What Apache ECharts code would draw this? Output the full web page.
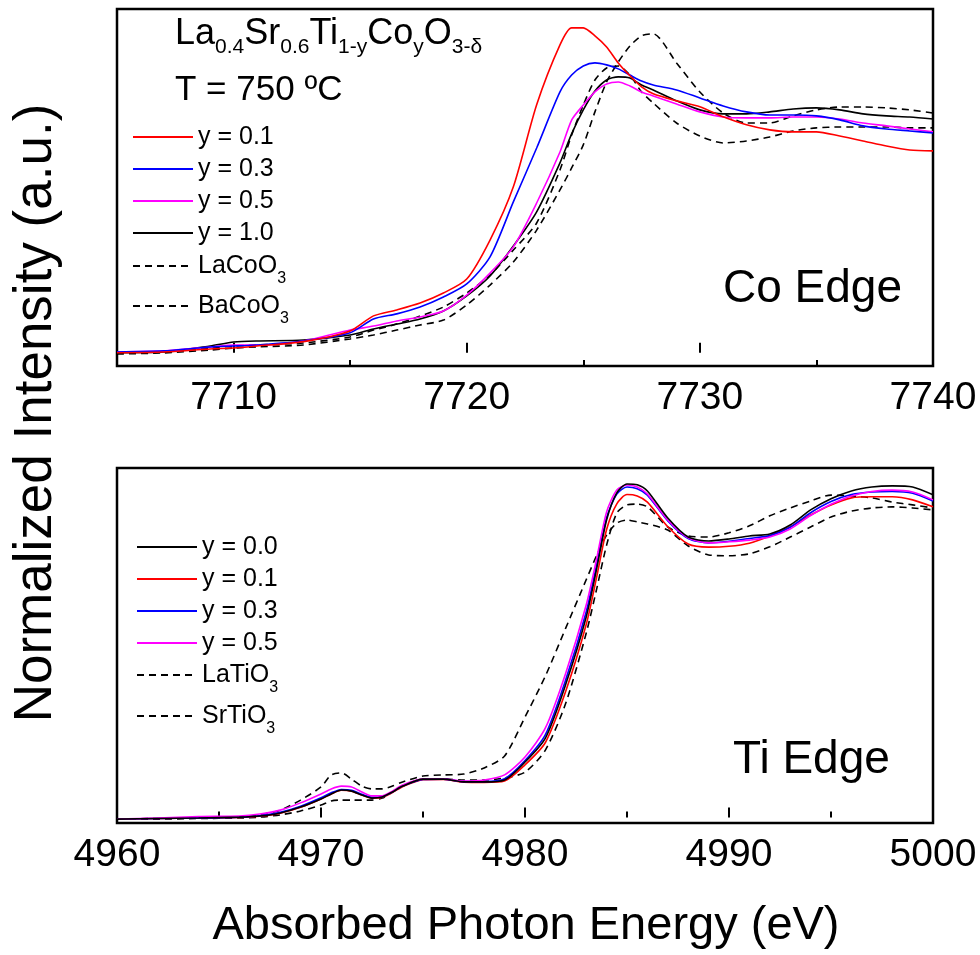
<!DOCTYPE html>
<html>
<head>
<meta charset="utf-8">
<title>Co / Ti edge XANES</title>
<script src="https://cdn.jsdelivr.net/npm/echarts@6/dist/echarts.min.js"></script>
<style>
  html, body { margin: 0; padding: 0; background: #fff; }
  #chart { width: 980px; height: 955px; }
</style>
</head>
<body>
<div id="chart"></div>
<script>
// ---- Co edge (top panel) ----
var coEnergy = [7705, 7707, 7709, 7710, 7711, 7713, 7715, 7716, 7717, 7718, 7719, 7720, 7721, 7722, 7723, 7724, 7724.5, 7725, 7725.5, 7726, 7726.5, 7727, 7727.5, 7728, 7729, 7730, 7731, 7732, 7733, 7734, 7735, 7736, 7737, 7738, 7739, 7740];
var coY01 = [0.000, 0.003, 0.017, 0.021, 0.030, 0.050, 0.098, 0.166, 0.193, 0.224, 0.269, 0.332, 0.508, 0.748, 1.118, 1.388, 1.465, 1.465, 1.429, 1.379, 1.307, 1.249, 1.199, 1.168, 1.136, 1.109, 1.064, 1.028, 1.005, 0.996, 0.996, 0.977, 0.955, 0.932, 0.914, 0.910];
var coY03 = [0.003, 0.008, 0.026, 0.030, 0.035, 0.053, 0.090, 0.152, 0.175, 0.206, 0.251, 0.310, 0.432, 0.680, 0.923, 1.176, 1.252, 1.293, 1.307, 1.298, 1.280, 1.252, 1.225, 1.207, 1.185, 1.149, 1.113, 1.086, 1.072, 1.072, 1.068, 1.050, 1.023, 1.009, 1.000, 0.991];
var coY05 = [0.003, 0.008, 0.026, 0.035, 0.035, 0.053, 0.102, 0.120, 0.143, 0.161, 0.188, 0.260, 0.359, 0.477, 0.675, 0.905, 1.049, 1.117, 1.176, 1.212, 1.221, 1.203, 1.176, 1.158, 1.122, 1.086, 1.063, 1.059, 1.059, 1.063, 1.063, 1.054, 1.036, 1.023, 1.009, 0.996];
var coY10 = [0.000, 0.003, 0.030, 0.048, 0.053, 0.057, 0.080, 0.107, 0.129, 0.152, 0.188, 0.256, 0.346, 0.481, 0.635, 0.856, 0.987, 1.095, 1.180, 1.230, 1.244, 1.239, 1.207, 1.185, 1.136, 1.095, 1.077, 1.077, 1.086, 1.099, 1.104, 1.095, 1.077, 1.068, 1.063, 1.054];
var coLaCoO3 = [0.000, 0.003, 0.021, 0.030, 0.035, 0.044, 0.071, 0.102, 0.129, 0.165, 0.206, 0.269, 0.350, 0.463, 0.585, 0.824, 0.982, 1.117, 1.230, 1.284, 1.293, 1.252, 1.176, 1.126, 1.036, 0.977, 0.946, 0.955, 0.973, 1.000, 1.014, 1.018, 1.018, 1.018, 1.014, 1.014];
var coBaCoO3 = [-0.006, -0.001, 0.012, 0.021, 0.026, 0.035, 0.062, 0.080, 0.102, 0.125, 0.147, 0.215, 0.305, 0.409, 0.553, 0.734, 0.833, 0.937, 1.086, 1.221, 1.311, 1.383, 1.429, 1.438, 1.307, 1.176, 1.081, 1.036, 1.036, 1.068, 1.095, 1.108, 1.108, 1.104, 1.095, 1.081];
var coMajorTicks = [7710, 7720, 7730, 7740];
var coMinorTicks = [7715, 7725, 7735];
var coNames = ['y = 0.1', 'y = 0.3', 'y = 0.5', 'y = 1.0', 'LaCoO3', 'BaCoO3'];

// ---- Ti edge (bottom panel) ----
var tiEnergy = [4960, 4962, 4964, 4966, 4967, 4968, 4969, 4970, 4970.5, 4971, 4971.5, 4972, 4972.5, 4973, 4973.5, 4974, 4975, 4976, 4977, 4978, 4979, 4980, 4981, 4982, 4983, 4983.5, 4984, 4984.5, 4985, 4985.5, 4986, 4987, 4988, 4989, 4990, 4991, 4992, 4993, 4994, 4995, 4996, 4997, 4998, 4999, 5000];
var tiY00 = [-0.006, -0.004, -0.002, 0.001, 0.005, 0.016, 0.037, 0.066, 0.084, 0.098, 0.094, 0.080, 0.069, 0.073, 0.091, 0.112, 0.137, 0.137, 0.127, 0.127, 0.134, 0.198, 0.284, 0.477, 0.717, 0.885, 1.064, 1.161, 1.193, 1.190, 1.168, 1.071, 1.003, 0.989, 0.996, 1.007, 1.014, 1.046, 1.100, 1.140, 1.168, 1.182, 1.186, 1.182, 1.154];
var tiY01 = [-0.006, -0.004, -0.002, 0.000, 0.004, 0.015, 0.036, 0.066, 0.084, 0.097, 0.094, 0.080, 0.069, 0.072, 0.089, 0.110, 0.135, 0.136, 0.126, 0.125, 0.130, 0.188, 0.268, 0.452, 0.690, 0.855, 1.030, 1.122, 1.155, 1.150, 1.128, 1.040, 0.978, 0.967, 0.970, 0.981, 1.007, 1.039, 1.082, 1.118, 1.143, 1.147, 1.147, 1.136, 1.111];
var tiY03 = [-0.006, -0.004, -0.002, 0.001, 0.006, 0.018, 0.040, 0.070, 0.088, 0.100, 0.097, 0.083, 0.072, 0.074, 0.091, 0.112, 0.136, 0.137, 0.128, 0.128, 0.138, 0.203, 0.296, 0.493, 0.735, 0.900, 1.072, 1.157, 1.182, 1.176, 1.153, 1.061, 0.998, 0.982, 0.988, 0.998, 1.008, 1.038, 1.090, 1.130, 1.155, 1.164, 1.166, 1.160, 1.132];
var tiY05 = [-0.006, -0.002, 0.003, 0.005, 0.012, 0.026, 0.052, 0.084, 0.102, 0.112, 0.109, 0.091, 0.077, 0.077, 0.094, 0.116, 0.137, 0.137, 0.130, 0.134, 0.152, 0.216, 0.320, 0.517, 0.760, 0.921, 1.093, 1.171, 1.189, 1.182, 1.157, 1.064, 1.000, 0.982, 0.986, 0.992, 1.003, 1.032, 1.080, 1.120, 1.150, 1.166, 1.171, 1.164, 1.136];
var tiLaTiO3 = [-0.006, -0.004, -0.002, 0.001, 0.009, 0.026, 0.062, 0.109, 0.152, 0.159, 0.137, 0.112, 0.102, 0.102, 0.112, 0.127, 0.148, 0.152, 0.155, 0.177, 0.220, 0.359, 0.506, 0.678, 0.850, 0.935, 1.010, 1.053, 1.064, 1.057, 1.050, 1.028, 0.971, 0.939, 0.936, 0.943, 0.968, 1.003, 1.039, 1.075, 1.096, 1.107, 1.111, 1.107, 1.100];
var tiSrTiO3 = [-0.006, -0.006, -0.004, -0.002, 0.001, 0.009, 0.023, 0.044, 0.059, 0.062, 0.062, 0.062, 0.062, 0.069, 0.091, 0.112, 0.137, 0.137, 0.134, 0.134, 0.141, 0.162, 0.241, 0.409, 0.659, 0.813, 0.974, 1.089, 1.118, 1.121, 1.111, 1.039, 1.007, 1.003, 1.018, 1.043, 1.079, 1.107, 1.132, 1.153, 1.150, 1.143, 1.128, 1.118, 1.107];
var tiNames = ['y = 0.0', 'y = 0.1', 'y = 0.3', 'y = 0.5', 'LaTiO3', 'SrTiO3'];

var FONT = "'Liberation Sans', Arial, sans-serif";

function curve(prefix, label, energy, values, color, dashed, idx) {
  return {
    name: prefix + label,
    type: 'line',
    xAxisIndex: idx === 0 ? 0 : 2,
    yAxisIndex: idx,
    data: energy.map(function (e, i) { return [e, values[i]]; }),
    symbol: 'none',
    smooth: 0.25,
    animation: false,
    itemStyle: { color: color },
    lineStyle: { color: color, width: 1.6, type: dashed ? [7, 5] : 'solid' }
  };
}

// every label gets a sub token, so every legend row has the same height
function legendText(name) {
  var n = name.slice(3);
  var m = n.match(/^(.*O)3$/);
  return m ? '{m|' + m[1] + '}{s|3}' : '{m|' + n + '}{s| }';
}

// one legend per row, so the uneven row spacing of the figure can be kept
function makeLegends(names, prefix, left, rowCenters) {
  return names.map(function (n, i) {
    return {
      orient: 'vertical', left: left, top: rowCenters[i] - 21, padding: 0,
      itemWidth: 60, itemHeight: 14,
      selectedMode: false,
      data: [prefix + n],
      formatter: legendText,
      itemStyle: { opacity: 0 },
      textStyle: {
        color: '#000', fontFamily: FONT,
        rich: {
          m: { fontSize: 25, lineHeight: 30, fontFamily: FONT, color: '#000' },
          s: { fontSize: 16, lineHeight: 16, padding: [26, 0, 0, 0], fontFamily: FONT, color: '#000' }
        }
      }
    };
  });
}

var tickLabel = { fontSize: 39, color: '#000', fontFamily: FONT, margin: 13, formatter: function (v) { return String(v); } };

var chart = echarts.init(document.getElementById('chart'));
chart.setOption({
  backgroundColor: '#fff',
  animation: false,
  grid: [
    { left: 117, top: 9, width: 816, height: 357, show: true, borderColor: '#000', borderWidth: 2.5 },
    { left: 117, top: 468, width: 816, height: 355, show: true, borderColor: '#000', borderWidth: 2.5 }
  ],
  xAxis: [
    {
      type: 'value', gridIndex: 0, min: 7705, max: 7740, interval: 5,
      axisLine: { show: false }, splitLine: { show: false },
      axisTick: { inside: true, length: 10, lineStyle: { color: '#000', width: 2 }, customValues: coMajorTicks },
      axisLabel: Object.assign({ customValues: coMajorTicks }, tickLabel)
    },
    {
      type: 'value', gridIndex: 0, min: 7705, max: 7740, interval: 5,
      position: 'top', offset: -357,
      axisLine: { show: false }, splitLine: { show: false }, axisLabel: { show: false },
      axisTick: { inside: false, length: 6, lineStyle: { color: '#000', width: 2 }, customValues: coMinorTicks }
    },
    {
      type: 'value', gridIndex: 1, min: 4960, max: 5000, interval: 10,
      axisLine: { show: false }, splitLine: { show: false },
      axisTick: { inside: true, length: 10, lineStyle: { color: '#000', width: 2 } },
      minorTick: { show: true, splitNumber: 2, length: 6, lineStyle: { color: '#000', width: 2 } },
      axisLabel: tickLabel
    }
  ],
  yAxis: [
    { type: 'value', gridIndex: 0, min: -0.06, max: 1.55, axisLine: { show: false }, axisTick: { show: false }, axisLabel: { show: false }, splitLine: { show: false } },
    { type: 'value', gridIndex: 1, min: -0.02, max: 1.25, axisLine: { show: false }, axisTick: { show: false }, axisLabel: { show: false }, splitLine: { show: false } }
  ],
  legend: makeLegends(coNames, 'Co ', 132, [137, 169, 201, 233, 266, 306])
    .concat(makeLegends(tiNames, 'Ti ', 136, [547, 579, 611, 643, 675, 716])),
  series: [
    curve('Co ', coNames[5], coEnergy, coBaCoO3, '#000', true, 0),
    curve('Co ', coNames[4], coEnergy, coLaCoO3, '#000', true, 0),
    curve('Co ', coNames[3], coEnergy, coY10, '#000', false, 0),
    curve('Co ', coNames[2], coEnergy, coY05, '#ff00ff', false, 0),
    curve('Co ', coNames[1], coEnergy, coY03, '#0000ff', false, 0),
    curve('Co ', coNames[0], coEnergy, coY01, '#ff0000', false, 0),
    curve('Ti ', tiNames[5], tiEnergy, tiSrTiO3, '#000', true, 1),
    curve('Ti ', tiNames[4], tiEnergy, tiLaTiO3, '#000', true, 1),
    curve('Ti ', tiNames[1], tiEnergy, tiY01, '#ff0000', false, 1),
    curve('Ti ', tiNames[2], tiEnergy, tiY03, '#0000ff', false, 1),
    curve('Ti ', tiNames[3], tiEnergy, tiY05, '#ff00ff', false, 1),
    curve('Ti ', tiNames[0], tiEnergy, tiY00, '#000', false, 1)
  ],
  graphic: [
    {
      type: 'text', x: 175, y: 16,
      style: {
        text: '{m|La}{s|0.4}{m|Sr}{s|0.6}{m|Ti}{s|1-y}{m|Co}{s|y}{m|O}{s|3-δ}',
        fill: '#000', fontFamily: FONT, verticalAlign: 'top',
        rich: {
          m: { fontSize: 36, lineHeight: 36, verticalAlign: 'top', fontFamily: FONT, fill: '#000' },
          s: { fontSize: 21, lineHeight: 21, padding: [26, 0, 0, 0], fontFamily: FONT, fill: '#000' }
        }
      }
    },
    { type: 'text', x: 175, y: 90, style: { text: 'T = 750 ºC', fontSize: 35, fontFamily: FONT, fill: '#000', verticalAlign: 'middle' } },
    { type: 'text', x: 723, y: 289, style: { text: 'Co Edge', fontSize: 46, fontFamily: FONT, fill: '#000', verticalAlign: 'middle' } },
    { type: 'text', x: 733, y: 760, style: { text: 'Ti Edge', fontSize: 46, fontFamily: FONT, fill: '#000', verticalAlign: 'middle' } },
    { type: 'text', x: 526, y: 926, style: { text: 'Absorbed Photon Energy (eV)', fontSize: 47, fontFamily: FONT, fill: '#000', align: 'center', verticalAlign: 'middle' } },
    { type: 'text', x: 36, y: 413, rotation: Math.PI / 2, style: { text: 'Normalized Intensity (a.u.)', fontSize: 53, fontFamily: FONT, fill: '#000', align: 'center', verticalAlign: 'middle' } }
  ]
});
</script>
</body>
</html>
